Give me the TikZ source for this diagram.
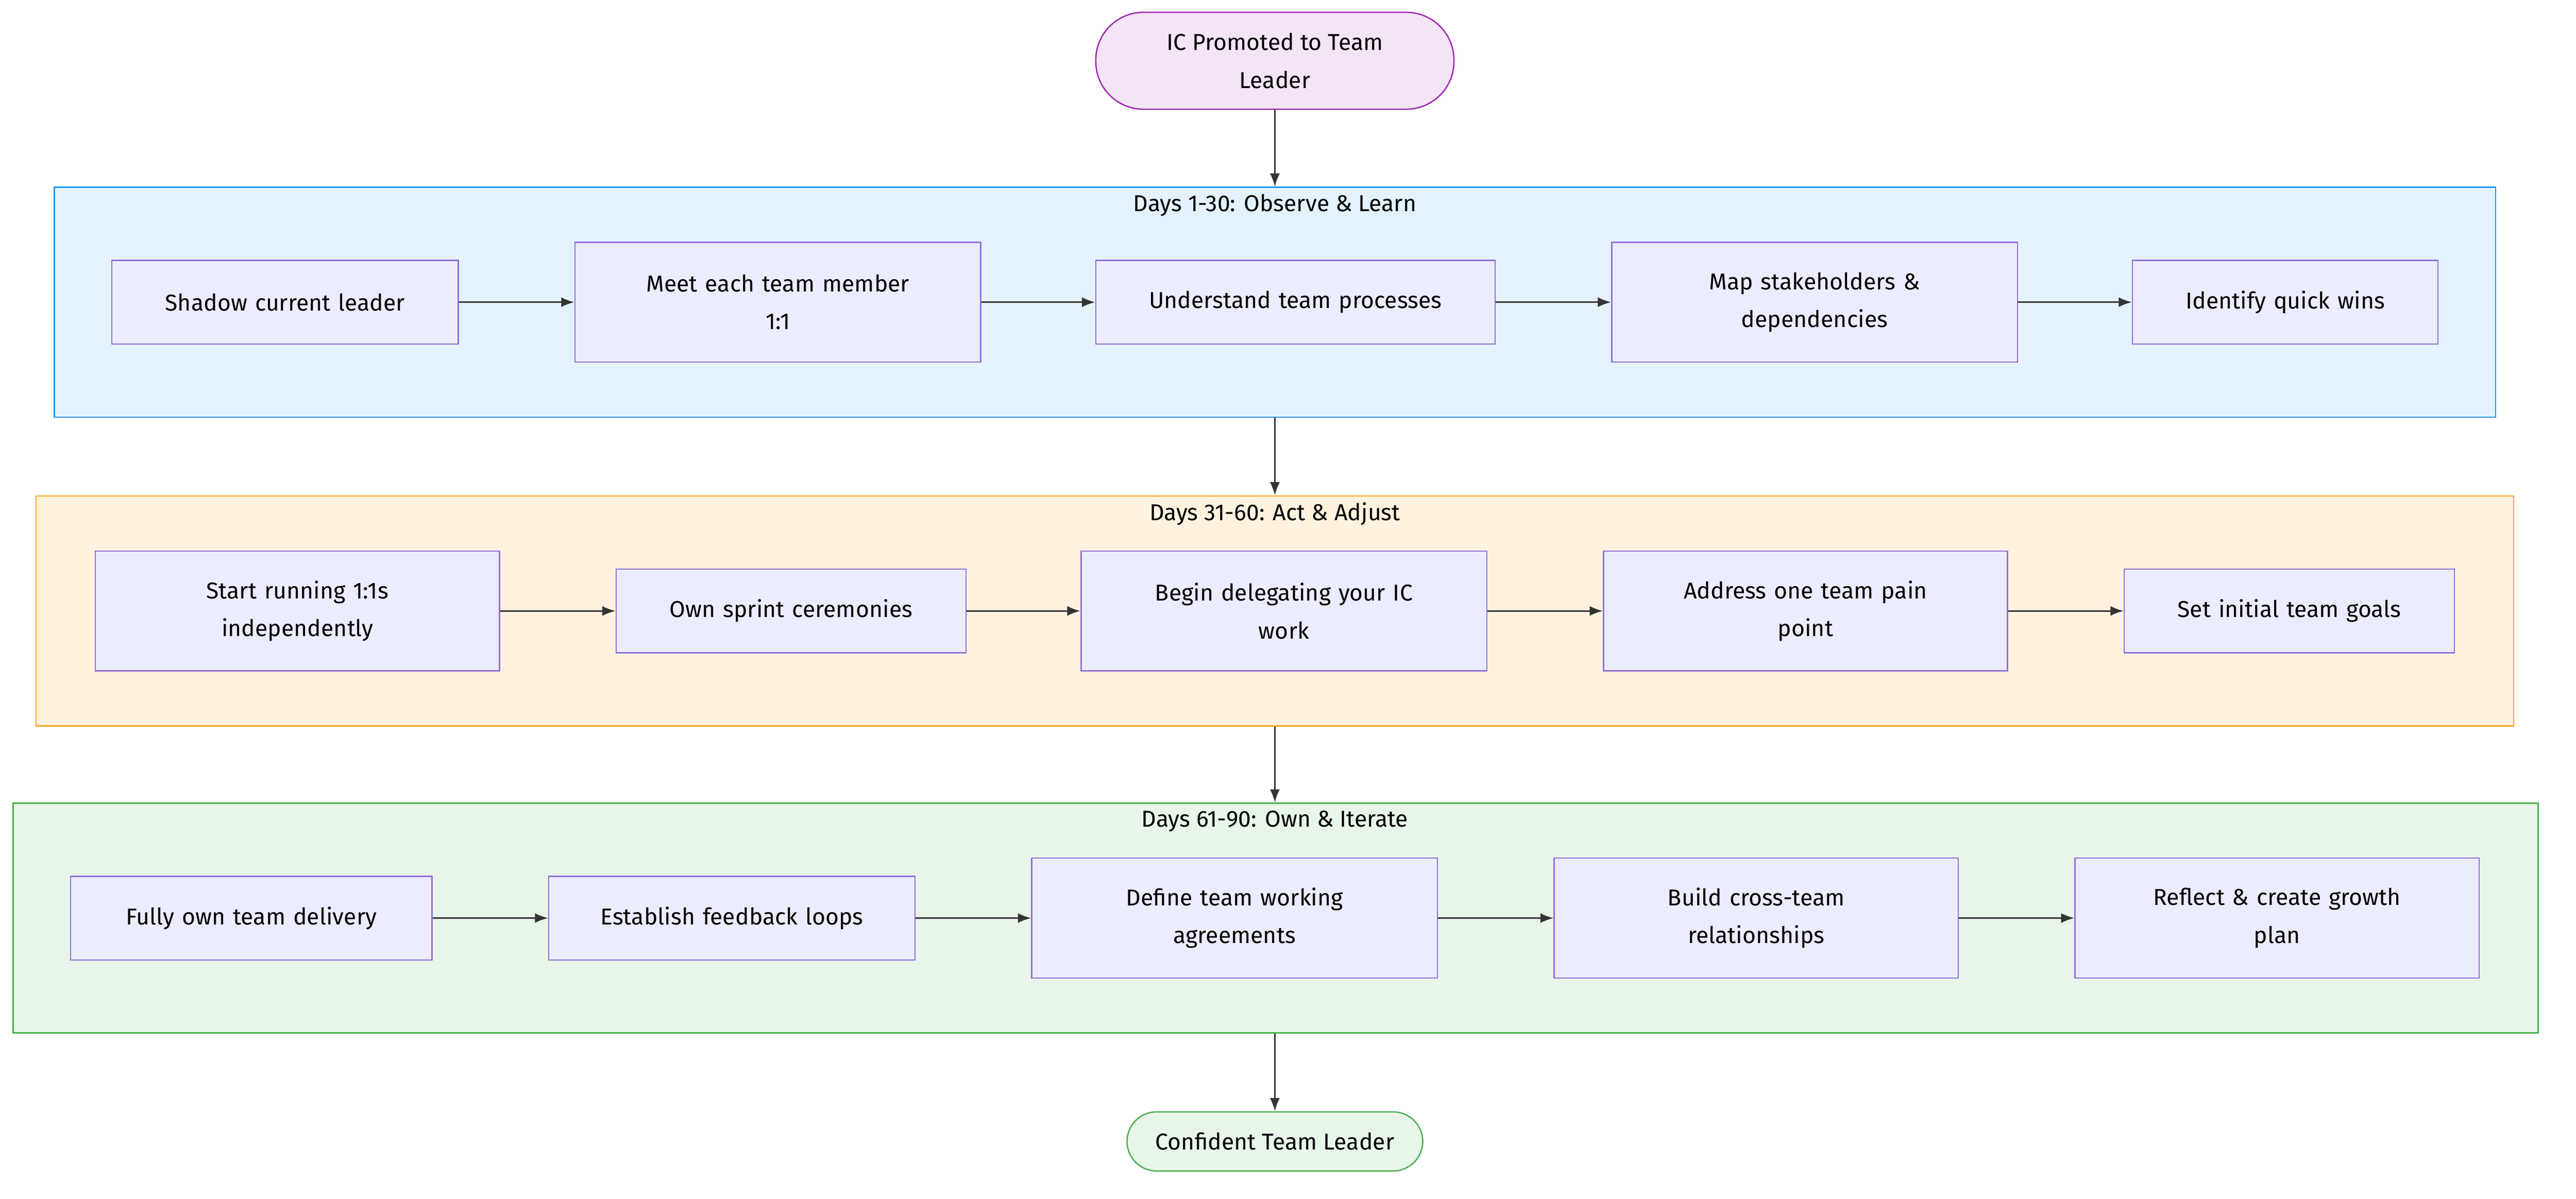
\documentclass[tikz,border=0pt]{standalone}
\usepackage{fontspec}
\setmainfont{Fira Sans}
\usetikzlibrary{arrows.meta, positioning}
\definecolor{stepfill}{HTML}{ECECFF}
\definecolor{stepline}{HTML}{9370DB}
\definecolor{obsfill}{HTML}{E3F2FD}
\definecolor{obsline}{HTML}{2196F3}
\definecolor{actfill}{HTML}{FFF3E0}
\definecolor{actline}{HTML}{F5A623}
\definecolor{ownfill}{HTML}{E8F5E9}
\definecolor{ownline}{HTML}{4CAF50}
\definecolor{startfill}{HTML}{F3E5F5}
\definecolor{startline}{HTML}{9C27B0}
\begin{document}
\begin{tikzpicture}[x=1pt, y=-1pt,
    step/.style={draw=stepline, fill=stepfill, line width=0.8pt, minimum height=51pt, align=center, font=\fontsize{14}{23}\selectfont, text width=#1, inner sep=0pt},
    step/.default=160pt,
    phase/.style={draw=#1line, fill=#1fill, line width=0.8pt, inner sep=0pt, minimum height=140pt},
    title/.style={font=\fontsize{14}{17}\selectfont},
    flow/.style={-{Latex[length=8pt,width=6pt]}, line width=0.8pt, draw=black!80}]

  \useasboundingbox (0,0) rectangle (1568,730);

  % start and end
  \node[draw=startline, fill=startfill, rounded corners=29pt, line width=0.8pt, minimum width=218pt, minimum height=59pt, align=center, font=\fontsize{14}{23}\selectfont] (start) at (776,37) {IC Promoted to Team\\Leader};
  \node[draw=ownline, fill=ownfill, rounded corners=18pt, line width=0.8pt, minimum width=180pt, minimum height=36pt, font=\fontsize{14}{17}\selectfont] (finish) at (776,695) {Confident Team Leader};

  % phases
  \node[phase=obs, minimum width=1486pt] (obs) at (776,184) {};
  \node[phase=act, minimum width=1508pt] (act) at (776,372) {};
  \node[phase=own, minimum width=1537pt] (own) at (776.5,559) {};
  \node[title] (obsT) at (776,125) {Days 1-30: Observe \& Learn};
  \node[title] (actT) at (776,313) {Days 31-60: Act \& Adjust};
  \node[title] (ownT) at (776,500) {Days 61-90: Own \& Iterate};

  % days 1-30
  \node[step=211pt] (shadow) at (173.5,184) {Shadow current leader};
  \node[step=247pt, minimum height=73pt] (meet) at (473.5,184) {Meet each team member\\1:1};
  \node[step=243pt] (procs) at (788.5,184) {Understand team processes};
  \node[step=247pt, minimum height=73pt] (stake) at (1104.5,184) {Map stakeholders \&\\dependencies};
  \node[step=186pt] (wins) at (1391,184) {Identify quick wins};

  % days 31-60
  \node[step=246pt, minimum height=73pt] (oneone) at (181,372) {Start running 1:1s\\independently};
  \node[step=213pt] (sprint) at (481.5,372) {Own sprint ceremonies};
  \node[step=247pt, minimum height=73pt] (deleg) at (781.5,372) {Begin delegating your IC\\work};
  \node[step=246pt, minimum height=73pt] (pain) at (1099,372) {Address one team pain\\point};
  \node[step=201pt] (goals) at (1393.5,372) {Set initial team goals};

  % days 61-90
  \node[step=220pt] (deliv) at (153,559) {Fully own team delivery};
  \node[step=223pt] (loops) at (445.5,559) {Establish feedback loops};
  \node[step=247pt, minimum height=73pt] (agree) at (751.5,559) {Define team working\\agreements};
  \node[step=246pt, minimum height=73pt] (cross) at (1069,559) {Build cross-team\\relationships};
  \node[step=246pt, minimum height=73pt] (growth) at (1386,559) {Reflect \& create growth\\plan};

  \draw[flow] (shadow) -- (meet);
  \draw[flow] (meet) -- (procs);
  \draw[flow] (procs) -- (stake);
  \draw[flow] (stake) -- (wins);
  \draw[flow] (oneone) -- (sprint);
  \draw[flow] (sprint) -- (deleg);
  \draw[flow] (deleg) -- (pain);
  \draw[flow] (pain) -- (goals);
  \draw[flow] (deliv) -- (loops);
  \draw[flow] (loops) -- (agree);
  \draw[flow] (agree) -- (cross);
  \draw[flow] (cross) -- (growth);

  \draw[flow] (start) -- (obs);
  \draw[flow] (obs) -- (act);
  \draw[flow] (act) -- (own.north -| act.south);
  \draw[flow] (own.south -| finish.north) -- (finish);
\end{tikzpicture}
\end{document}
